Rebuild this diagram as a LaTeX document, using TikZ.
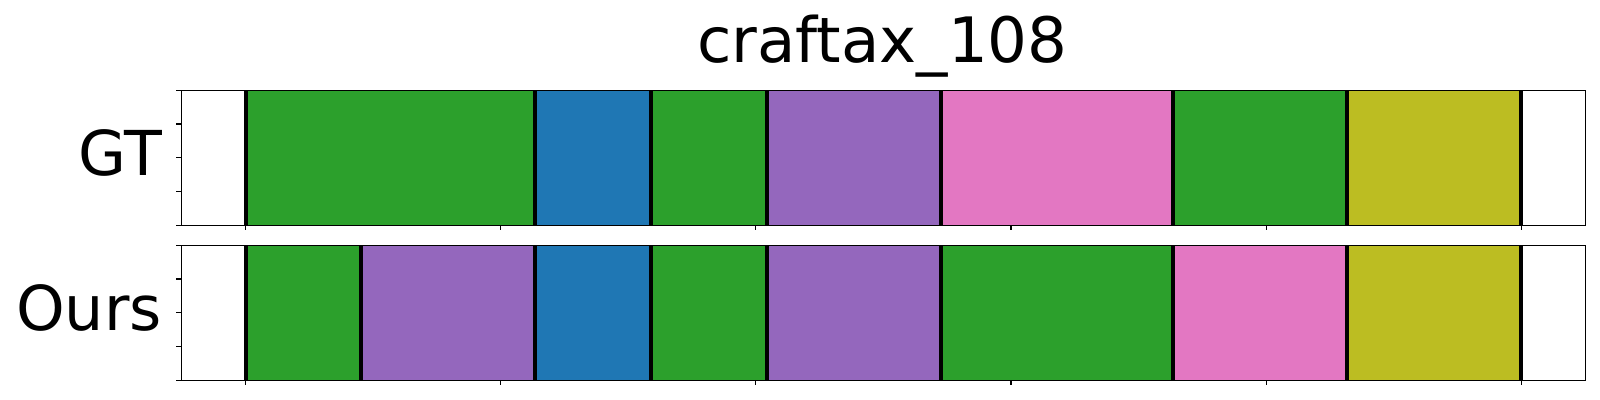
\documentclass[tikz,border=0pt]{standalone}
\usepackage{fontspec}
\setmainfont{DejaVu Sans}
\usepackage{tikz}

\definecolor{tabgreen}{HTML}{2CA02C}
\definecolor{tabblue}{HTML}{1F77B4}
\definecolor{tabpurple}{HTML}{9467BD}
\definecolor{tabpink}{HTML}{E377C2}
\definecolor{tabolive}{HTML}{BCBD22}

\begin{document}
\begin{tikzpicture}[x=0.01cm,y=-0.01cm
	,inner sep=0pt]
  \tikzstyle{bound}=[line width=1.14pt,black]
  \tikzstyle{frame}=[line width=0.3pt,black]
  \tikzstyle{rowlabel}=[anchor=base east,font=\fontsize{17.6}{20}\selectfont]
  \useasboundingbox (0,0) rectangle (1600,400);

  % title
  \node[anchor=base,font=\fontsize{17.8}{20}\selectfont] (title) at (882.4,62.7) {craftax\_108};

  % GT row
  \fill[tabgreen ] (245.7,90.3) rectangle (535,225.3);
  \fill[tabblue  ] (535,90.3)   rectangle (651,225.3);
  \fill[tabgreen ] (651,90.3)   rectangle (767,225.3);
  \fill[tabpurple] (767,90.3)   rectangle (941,225.3);
  \fill[tabpink  ] (941,90.3)   rectangle (1172.7,225.3);
  \fill[tabgreen ] (1172.7,90.3) rectangle (1347,225.3);
  \fill[tabolive ] (1347,90.3)  rectangle (1521,225.3);
  \draw[bound] (245.7,90.3) -- (245.7,225.3)  (535,90.3) -- (535,225.3)
               (651,90.3) -- (651,225.3)      (767,90.3) -- (767,225.3)
               (941,90.3) -- (941,225.3)      (1172.7,90.3) -- (1172.7,225.3)
               (1347,90.3) -- (1347,225.3)    (1521,90.3) -- (1521,225.3);
  \draw[frame] (181.3,90.3) rectangle (1585.7,225.3);
  % ticks
  \draw[frame] (181.3,90.3) -- ++(-5,0)  (181.3,124) -- ++(-5,0)
               (181.3,157.8) -- ++(-5,0) (181.3,191.5) -- ++(-5,0)
               (181.3,225.3) -- ++(-5,0);
  \draw[frame] (245.7,225.3) -- ++(0,5) (500.8,225.3) -- ++(0,5)
               (755.9,225.3) -- ++(0,5) (1011,225.3) -- ++(0,5)
               (1266.1,225.3) -- ++(0,5) (1521.2,225.3) -- ++(0,5);
  \node[rowlabel] (gt) at (162.5,175) {GT};

  % Ours row
  \fill[tabgreen ] (245.7,245.3) rectangle (361,380.3);
  \fill[tabpurple] (361,245.3)   rectangle (535,380.3);
  \fill[tabblue  ] (535,245.3)   rectangle (651,380.3);
  \fill[tabgreen ] (651,245.3)   rectangle (767,380.3);
  \fill[tabpurple] (767,245.3)   rectangle (941,380.3);
  \fill[tabgreen ] (941,245.3)   rectangle (1172.7,380.3);
  \fill[tabpink  ] (1172.7,245.3) rectangle (1347,380.3);
  \fill[tabolive ] (1347,245.3)  rectangle (1521,380.3);
  \draw[bound] (245.7,245.3) -- (245.7,380.3)  (361,245.3) -- (361,380.3)
               (535,245.3) -- (535,380.3)      (651,245.3) -- (651,380.3)
               (767,245.3) -- (767,380.3)      (941,245.3) -- (941,380.3)
               (1172.7,245.3) -- (1172.7,380.3) (1347,245.3) -- (1347,380.3)
               (1521,245.3) -- (1521,380.3);
  \draw[frame] (181.3,245.3) rectangle (1585.7,380.3);
  % ticks
  \draw[frame] (181.3,245.3) -- ++(-5,0)  (181.3,279) -- ++(-5,0)
               (181.3,312.8) -- ++(-5,0) (181.3,346.5) -- ++(-5,0)
               (181.3,380.3) -- ++(-5,0);
  \draw[frame] (245.7,380.3) -- ++(0,5) (500.8,380.3) -- ++(0,5)
               (755.9,380.3) -- ++(0,5) (1011,380.3) -- ++(0,5)
               (1266.1,380.3) -- ++(0,5) (1521.2,380.3) -- ++(0,5);
  \node[rowlabel] (ours) at (162.5,330) {Ours};
\end{tikzpicture}
\end{document}
